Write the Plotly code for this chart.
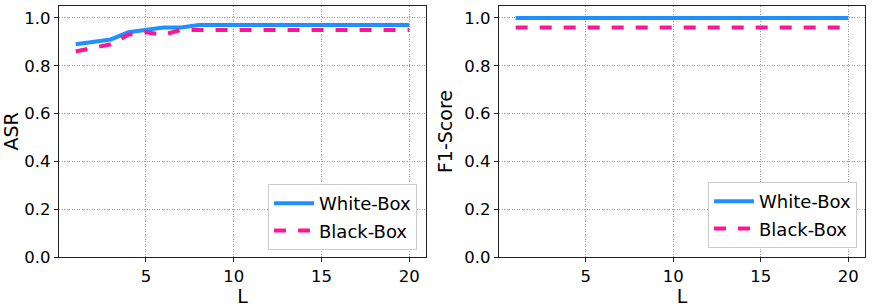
import plotly.graph_objects as go

L = list(range(1, 21))
asr_white = [0.89, 0.90, 0.91, 0.94, 0.95, 0.96, 0.96, 0.97, 0.97, 0.97, 0.97, 0.97, 0.97, 0.97, 0.97, 0.97, 0.97, 0.97, 0.97, 0.97]
asr_black = [0.86, 0.875, 0.89, 0.93, 0.94, 0.93, 0.95, 0.95, 0.95, 0.95, 0.95, 0.95, 0.95, 0.95, 0.95, 0.95, 0.95, 0.95, 0.95, 0.95]
f1_white = [1.0] * 20
f1_black = [0.96] * 20
y_ticks = [0.0, 0.2, 0.4, 0.6, 0.8, 1.0]
x_ticks = [5, 10, 15, 20]

BLUE = "#1E90FF"
PINK = "#FF1493"
FONT = "DejaVu Sans"
W, H = 872, 307

fig = go.Figure()
fig.add_trace(go.Scatter(x=L, y=asr_white, mode="lines", name="White-Box", legendgroup="w1",
                         line=dict(color=BLUE, width=4), xaxis="x", yaxis="y", legend="legend"))
fig.add_trace(go.Scatter(x=L, y=asr_black, mode="lines", name="Black-Box", legendgroup="b1",
                         line=dict(color=PINK, width=4, dash="dash"), xaxis="x", yaxis="y", legend="legend"))
fig.add_trace(go.Scatter(x=L, y=f1_white, mode="lines", name="White-Box", legendgroup="w2",
                         line=dict(color=BLUE, width=4), xaxis="x2", yaxis="y2", legend="legend2"))
fig.add_trace(go.Scatter(x=L, y=f1_black, mode="lines", name="Black-Box", legendgroup="b2",
                         line=dict(color=PINK, width=4, dash="dash"), xaxis="x2", yaxis="y2", legend="legend2"))

ydom = [1 - 257 / H, 1 - 6 / H]
axis_common = dict(showline=True, linecolor="#222", linewidth=1.2, mirror=True,
                   ticks="outside", ticklen=4, tickcolor="#222", automargin=False,
                   showgrid=True, gridcolor="#9a9a9a", griddash="1px,1.5px", gridwidth=1,
                   zeroline=False, tickfont=dict(size=16.5, color="black", family=FONT))

xax = dict(axis_common, range=[0.05, 20.95], tickvals=x_ticks,
           title=dict(text="L", font=dict(size=19, family=FONT, color="black"), standoff=4))
yax = dict(axis_common, range=[0, 1.05], tickvals=y_ticks, tickformat=".1f")

legend_common = dict(bgcolor="white", bordercolor="#ccc", borderwidth=1,
                     font=dict(size=18, family=FONT, color="black"),
                     xanchor="right", yanchor="bottom", itemwidth=40, tracegroupgap=1)

fig.update_layout(
    width=W, height=H,
    margin=dict(l=0, r=0, t=0, b=0),
    paper_bgcolor="white", plot_bgcolor="white",
    font=dict(family=FONT, color="black"),
    xaxis=dict(xax, domain=[59 / W, 426 / W], anchor="y"),
    yaxis=dict(yax, domain=ydom, anchor="x",
               title=dict(text="ASR", font=dict(size=19, family=FONT, color="black"), standoff=6)),
    xaxis2=dict(xax, domain=[499 / W, 865 / W], anchor="y2"),
    yaxis2=dict(yax, domain=ydom, anchor="x2",
                title=dict(text="F1-Score", font=dict(size=19, family=FONT, color="black"), standoff=6)),
    legend=dict(legend_common, x=417 / W, y=1 - 250 / H),
    legend2=dict(legend_common, x=857 / W, y=1 - 248 / H),
    showlegend=True,
)

fig.write_html("out.html", config={"displayModeBar": False},
               post_script="document.body.style.margin='0';document.body.style.overflow='hidden';")
